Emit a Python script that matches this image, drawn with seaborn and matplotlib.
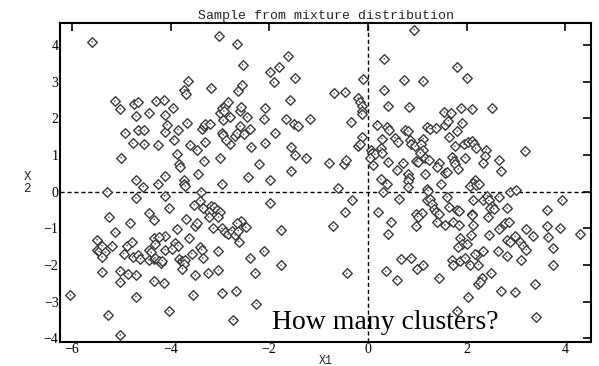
import numpy as np
import pandas as pd
import matplotlib
matplotlib.use("Agg")
import matplotlib.pyplot as plt
import seaborn as sns

# points, grouped by region of the plot (X1, X2)
upper_left = [
    (-5.59, 4.09), (-3.02, 4.25), (-2.66, 4.03), (-2.54, 3.46), (-3.65, 3.01), (-3.72, 2.78),
    (-3.68, 2.66), (-3.19, 2.83), (-2.64, 2.74), (-2.56, 2.92), (-5.13, 2.47), (-5.02, 2.26),
    (-4.75, 2.38), (-4.66, 2.45), (-4.44, 2.15), (-4.29, 2.47), (-4.14, 2.49), (-3.95, 2.29),
    (-4.12, 2.08), (-4.70, 2.06), (-3.00, 2.15), (-2.95, 2.28), (-2.90, 2.35), (-2.83, 2.45),
    (-2.92, 2.20), (-2.60, 2.20), (-2.57, 2.30),
    (-1.61, 3.70), (-1.99, 3.26), (-1.80, 3.40), (-1.91, 2.98), (-1.47, 3.10), (-0.11, 3.08),
    (-0.68, 2.68), (-0.46, 2.71), (-0.20, 2.55), (-0.17, 2.45), (-0.12, 2.35), (-0.12, 2.20),
    (-0.13, 2.12), (-1.58, 2.49), (-2.08, 2.27),
    (-4.92, 1.60), (-4.65, 1.67), (-4.53, 1.67), (-4.77, 1.32), (-4.53, 1.29), (-4.26, 1.26),
    (-4.11, 1.63), (-4.07, 1.83), (-3.94, 1.42), (-3.85, 1.69), (-3.66, 1.87), (-3.60, 1.27),
    (-3.47, 1.13), (-3.30, 1.36), (-3.37, 1.72), (-3.33, 1.78), (-3.30, 1.85), (-3.20, 1.85),
    (-2.96, 1.60), (-2.93, 1.55), (-2.80, 1.30), (-2.88, 1.40), (-2.93, 1.95), (-2.80, 2.05),
    (-2.69, 1.53), (-2.59, 1.78), (-3.87, 1.02), (-3.82, 0.75), (-3.80, 0.68), (-3.32, 0.84),
    (-3.00, 0.93), (-5.00, 0.93), (-4.70, 0.32), (-4.55, 0.14), (-4.26, 0.22), (-4.11, 0.43),
    (-3.72, 0.32), (-3.73, 0.20), (-3.70, 0.15), (-3.45, 0.48), (-2.96, 0.21), (-5.29, 0.00),
    (-3.38, 0.00),
    (-2.45, 2.03), (-2.11, 1.99), (-1.66, 1.99), (-1.17, 1.99), (-1.49, 1.85), (-1.42, 1.78),
    (-2.65, 1.60), (-2.52, 1.56), (-2.40, 1.72), (-1.88, 1.60), (-2.37, 1.22), (-2.09, 1.32),
    (-1.56, 1.22), (-1.47, 1.00), (-1.26, 0.93), (-2.20, 0.75), (-2.43, 0.41), (-1.99, 0.32),
    (-1.56, 0.57), (-0.79, 0.78), (-0.48, 0.76), (-0.44, 0.86), (-0.35, 1.90), (-0.13, 1.49),
    (-0.20, 1.24), (-0.16, 1.30), (-0.61, 0.09),
]

upper_right = [
    (0.94, 4.42), (0.33, 3.62), (0.73, 3.04), (0.33, 2.78), (0.41, 2.35), (0.83, 2.32),
    (1.80, 3.40), (2.00, 3.10), (1.12, 3.01), (1.55, 2.17), (1.68, 2.14), (1.89, 2.29),
    (2.10, 2.26), (2.52, 2.29),
    (0.18, 1.83), (0.38, 1.76), (0.42, 1.68), (0.75, 1.69), (0.81, 1.65), (0.28, 1.45),
    (0.55, 1.47), (0.60, 1.36), (0.85, 1.40), (0.88, 1.29), (0.06, 1.13), (0.09, 1.06),
    (0.14, 1.02), (0.26, 1.20), (0.28, 1.06), (0.04, 0.93), (0.11, 0.73), (0.41, 0.82),
    (0.71, 0.79), (0.58, 0.59), (0.98, 0.84), (0.26, 0.34), (0.38, 0.22), (0.82, 0.48),
    (0.84, 0.38), (0.81, 0.28), (0.82, 0.12),
    (1.19, 1.76), (1.26, 1.72), (1.37, 1.74), (1.56, 1.83), (1.63, 1.94), (1.90, 1.87),
    (1.81, 1.65), (1.64, 1.49), (1.12, 1.45), (0.96, 1.24), (1.08, 1.29), (1.12, 1.15),
    (1.06, 1.06), (1.16, 0.93), (1.23, 0.86), (1.01, 0.82), (1.76, 1.24), (1.95, 1.29),
    (2.02, 1.35), (2.10, 1.39), (2.15, 1.30), (2.18, 1.18), (2.40, 1.15), (2.38, 0.97),
    (2.34, 0.77), (2.65, 0.86), (2.69, 0.57), (3.18, 1.11), (1.97, 0.93), (1.71, 0.95),
    (1.74, 0.85), (1.77, 0.76), (1.83, 0.62), (1.43, 0.79), (1.39, 0.68), (1.56, 0.52),
    (1.60, 0.55), (1.16, 0.48), (1.48, 0.22), (1.19, 0.07), (1.22, 0.03), (2.17, 0.32),
    (2.13, 0.23), (2.06, 0.15), (2.19, 0.17), (2.25, 0.20), (2.87, 0.00), (3.01, 0.05),
]

lower_left = [
    (-4.70, -0.17), (-4.12, -0.11), (-3.40, -0.25), (-3.52, -0.36), (-3.35, -0.45), (-4.04, -0.45),
    (-4.44, -0.59), (-3.18, -0.38), (-3.12, -0.43), (-3.05, -0.50), (-3.22, -0.55), (-3.00, -0.55),
    (-0.33, -0.23), (-1.98, -0.31), (-0.46, -0.56),
    (-5.25, -0.70), (-4.83, -0.86), (-4.33, -0.76), (-3.69, -0.75), (-3.50, -0.93), (-3.47, -0.86),
    (-3.23, -0.69), (-3.03, -0.69), (-3.87, -1.02), (-4.11, -1.20), (-5.13, -1.11), (-5.49, -1.31),
    (-5.49, -1.58), (-5.45, -1.63), (-5.39, -1.47), (-5.32, -1.65), (-5.19, -1.47), (-5.39, -1.78),
    (-4.88, -1.47), (-4.78, -1.38), (-4.95, -1.69), (-4.77, -1.78), (-4.65, -1.74), (-4.61, -1.83),
    (-4.44, -1.58), (-4.39, -1.65), (-4.34, -1.27), (-4.31, -1.42), (-4.24, -1.24), (-4.44, -1.86),
    (-4.34, -1.83), (-4.31, -1.80), (-4.24, -1.90), (-4.20, -1.95), (-4.17, -1.88), (-4.11, -1.58),
    (-3.91, -1.40), (-3.85, -1.47), (-3.62, -1.27), (-3.97, -1.56), (-3.83, -1.84), (-3.77, -1.89),
    (-3.71, -1.87), (-3.73, -1.97), (-3.76, -2.10), (-3.57, -1.69), (-3.40, -1.51), (-3.37, -1.58),
    (-3.35, -1.81), (-3.13, -1.00), (-2.96, -1.00), (-2.89, -1.10), (-2.83, -1.16), (-2.76, -1.06),
    (-2.69, -1.18), (-2.63, -1.06), (-2.57, -0.80), (-2.66, -0.86), (-3.04, -1.63), (-3.03, -2.14),
    (-3.25, -2.23), (-3.50, -2.28), (-5.39, -2.19), (-5.03, -2.17), (-4.86, -2.24), (-4.71, -2.26),
    (-5.02, -2.46), (-4.34, -2.44), (-4.14, -2.49), (-6.03, -2.82), (-4.70, -2.86), (-3.55, -2.82),
    (-2.95, -2.75), (-2.67, -2.71), (-5.27, -3.36), (-4.04, -3.25), (-2.73, -3.49), (-5.02, -3.91),
    (-2.48, -0.97), (-2.62, -1.36), (-1.76, -1.04), (-0.71, -0.93), (-2.40, -1.80), (-2.11, -1.63),
    (-1.76, -2.01), (-2.28, -2.21), (-0.43, -2.23), (-2.26, -3.05),
]

lower_right = [
    (0.31, -0.02), (0.63, -0.20), (0.20, -0.56), (0.98, -0.60),
    (1.19, -0.24), (1.26, -0.20), (1.30, -0.33), (1.60, -0.14), (2.13, -0.24), (2.34, -0.24),
    (2.42, -0.11), (2.45, -0.24), (2.65, -0.14), (2.52, -0.40), (2.48, -0.45), (2.55, -0.47),
    (2.82, -0.45), (3.93, -0.23), (3.62, -0.51), (1.33, -0.47), (1.38, -0.55), (1.43, -0.62),
    (1.09, -0.59), (1.01, -0.68), (1.64, -0.42), (1.80, -0.49), (1.85, -0.53), (2.11, -0.62),
    (2.44, -0.68),
    (0.46, -0.82), (0.41, -1.15), (0.98, -0.93), (0.66, -1.83), (0.87, -1.80), (0.36, -2.17),
    (0.58, -2.40), (1.00, -2.12),
    (1.39, -0.82), (1.56, -0.91), (1.73, -0.82), (1.85, -0.91), (2.13, -0.91), (2.10, -0.64),
    (2.71, -0.93), (2.78, -0.86), (2.86, -0.84), (2.65, -1.02), (2.46, -1.18), (2.09, -1.18),
    (1.86, -1.27), (1.90, -1.42), (1.83, -1.51), (2.00, -1.42), (3.21, -1.02), (3.35, -1.22),
    (3.62, -0.93), (3.89, -1.00), (4.29, -1.15), (3.64, -1.24), (3.75, -1.54), (3.75, -2.01),
    (3.11, -1.87), (2.81, -1.33), (2.88, -1.38), (2.98, -1.22), (3.08, -1.38), (3.15, -1.47),
    (3.21, -1.58), (2.63, -1.63), (2.81, -1.76), (2.34, -1.63), (2.20, -1.74), (2.16, -1.69),
    (1.70, -1.87), (1.73, -1.99), (1.86, -1.90), (1.97, -1.81), (2.07, -1.99), (2.24, -1.99),
    (1.12, -1.99), (1.43, -2.35), (2.49, -2.23), (2.32, -2.35), (2.24, -2.51), (2.27, -2.46),
    (2.03, -2.86), (2.69, -2.71), (2.98, -2.73), (3.38, -2.53), (1.80, -3.25), (3.41, -3.43),
]

x_ticks = [-6, -4, -2, 0, 2, 4]
y_ticks = [-4, -3, -2, -1, 0, 1, 2, 3, 4]

pts = upper_left + upper_right + lower_left + lower_right
df = pd.DataFrame(pts, columns=["X1", "X2"])

sns.set_theme(style="white")
plt.rcParams["font.family"] = ["Liberation Serif", "DejaVu Serif"]

fig = plt.figure(figsize=(5.99, 3.66), dpi=100)
ax = fig.add_axes([60 / 599, 1 - 342 / 366, 531 / 599, 319 / 366])

ax.axhline(0, color="black", linestyle=(0, (3, 2)), lw=1.0, zorder=1)
ax.axvline(0, color="black", linestyle=(0, (3, 2)), lw=1.0, zorder=1)

sns.scatterplot(data=df, x="X1", y="X2", marker="D", s=24, facecolor="white",
                edgecolor="#3a3a3a", linewidth=1.0, ax=ax, zorder=3)
sns.scatterplot(data=df, x="X1", y="X2", marker="o", s=1.5, color="#555555",
                edgecolor="none", ax=ax, zorder=4)

ax.set_xlim(-6.24, 4.52)
ax.set_ylim(-4.1, 4.6)
ax.set_xticks(x_ticks)
ax.set_yticks(y_ticks)
ax.tick_params(direction="in", length=6, width=1.2, top=True, right=True,
               labelsize=10, pad=1, colors="black")
for sp in ax.spines.values():
    sp.set_linewidth(1.5)
    sp.set_color("black")

ax.set_title("Sample from mixture distribution", family="Liberation Mono",
             fontsize=9.5, pad=3)
ax.set_xlabel("X1", family="Liberation Mono", fontsize=8.5, labelpad=-1)
ax.set_ylabel("X\n2", family="Liberation Mono", fontsize=9, rotation=0,
              labelpad=12, va="center", linespacing=1.0)

ax.text(-1.95, -3.74, "How many clusters?", fontsize=20, ha="left",
        va="baseline", color="black", zorder=5)

fig.savefig("out.png", dpi=100)
